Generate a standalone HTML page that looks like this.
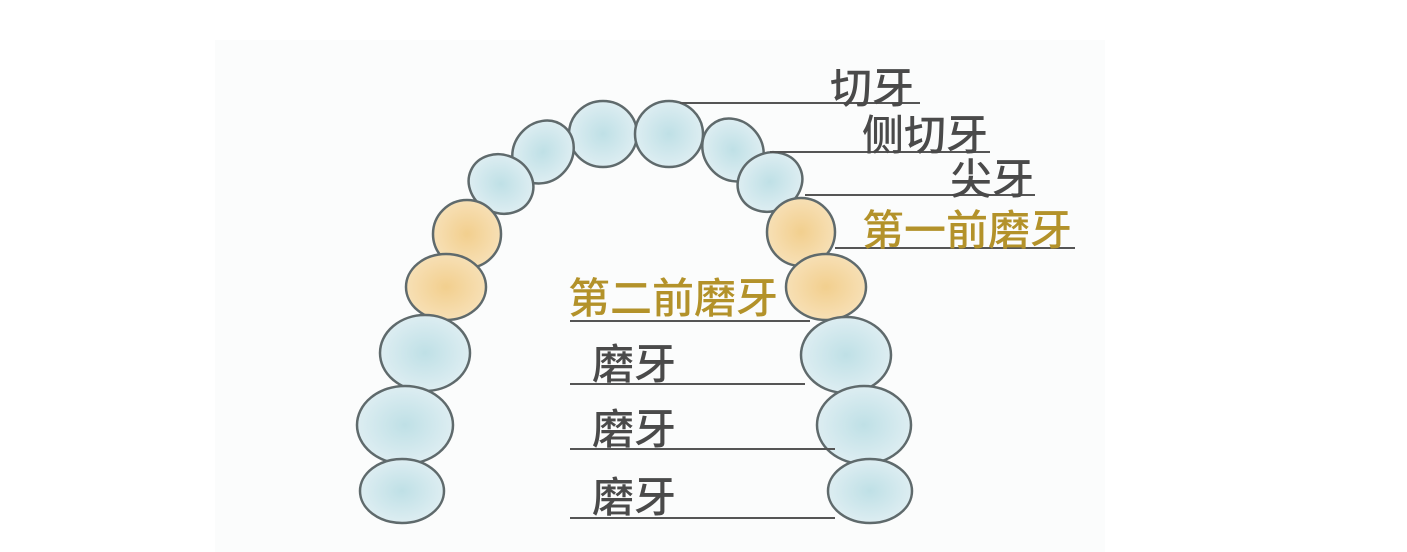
<!DOCTYPE html>
<html><head><meta charset="utf-8"><style>
html,body{margin:0;padding:0;background:#fff;}
svg{display:block;}
text{font-family:"Liberation Sans","Noto Sans CJK SC",sans-serif;font-weight:500;}
</style></head><body>
<svg width="1407" height="552" viewBox="0 0 1407 552">
<defs>
<radialGradient id="b" cx="50%" cy="50%" r="60%"><stop offset="0" stop-color="#bfe0e6"/><stop offset="1" stop-color="#e3f0f4"/></radialGradient>
<radialGradient id="y" cx="50%" cy="50%" r="60%"><stop offset="0" stop-color="#f2cf8e"/><stop offset="1" stop-color="#f8e3bd"/></radialGradient>
</defs>
<rect x="215" y="40" width="890" height="512" fill="#fbfcfc"/>
<g stroke="#5f6a6c" stroke-width="2.5">
<ellipse cx="603" cy="134" rx="34" ry="33" fill="url(#b)"/>
<ellipse cx="669" cy="134" rx="34" ry="33" fill="url(#b)"/>
<ellipse cx="543" cy="152" rx="29" ry="33" transform="rotate(40 543 152)" fill="url(#b)"/>
<ellipse cx="733" cy="150" rx="29" ry="33" transform="rotate(-40 733 150)" fill="url(#b)"/>
<ellipse cx="501" cy="184" rx="33" ry="29" transform="rotate(25 501 184)" fill="url(#b)"/>
<ellipse cx="770" cy="182" rx="33" ry="29" transform="rotate(-25 770 182)" fill="url(#b)"/>
<ellipse cx="467" cy="234" rx="34" ry="34" fill="url(#y)"/>
<ellipse cx="801" cy="232" rx="34" ry="34" fill="url(#y)"/>
<ellipse cx="446" cy="287" rx="40" ry="33" fill="url(#y)"/>
<ellipse cx="826" cy="287" rx="40" ry="33" fill="url(#y)"/>
<ellipse cx="425" cy="353" rx="45" ry="38" fill="url(#b)"/>
<ellipse cx="846" cy="355" rx="45" ry="38" fill="url(#b)"/>
<ellipse cx="405" cy="425" rx="48" ry="39" fill="url(#b)"/>
<ellipse cx="864" cy="425" rx="47" ry="39" fill="url(#b)"/>
<ellipse cx="402" cy="491" rx="42" ry="32" fill="url(#b)"/>
<ellipse cx="870" cy="491" rx="42" ry="32" fill="url(#b)"/>
</g>
<g stroke="#555" stroke-width="2">
<line x1="680" y1="103" x2="920" y2="103"/>
<line x1="770" y1="152" x2="990" y2="152"/>
<line x1="805" y1="195" x2="1035" y2="195"/>
<line x1="835" y1="248" x2="1075" y2="248"/>
<line x1="570" y1="321" x2="810" y2="321"/>
<line x1="570" y1="384" x2="805" y2="384"/>
<line x1="570" y1="449" x2="835" y2="449"/>
<line x1="570" y1="518" x2="835" y2="518"/>
</g>
<g font-size="42" fill="#4a4a4a">
<text x="830" y="103">切牙</text>
<text x="862" y="150">侧切牙</text>
<text x="950" y="194">尖牙</text>
<text x="592" y="379">磨牙</text>
<text x="592" y="444">磨牙</text>
<text x="592" y="512">磨牙</text>
</g>
<g font-size="42" fill="#b3922a">
<text x="862" y="245">第一前磨牙</text>
<text x="568" y="313">第二前磨牙</text>
</g>
</svg>
</body></html>
